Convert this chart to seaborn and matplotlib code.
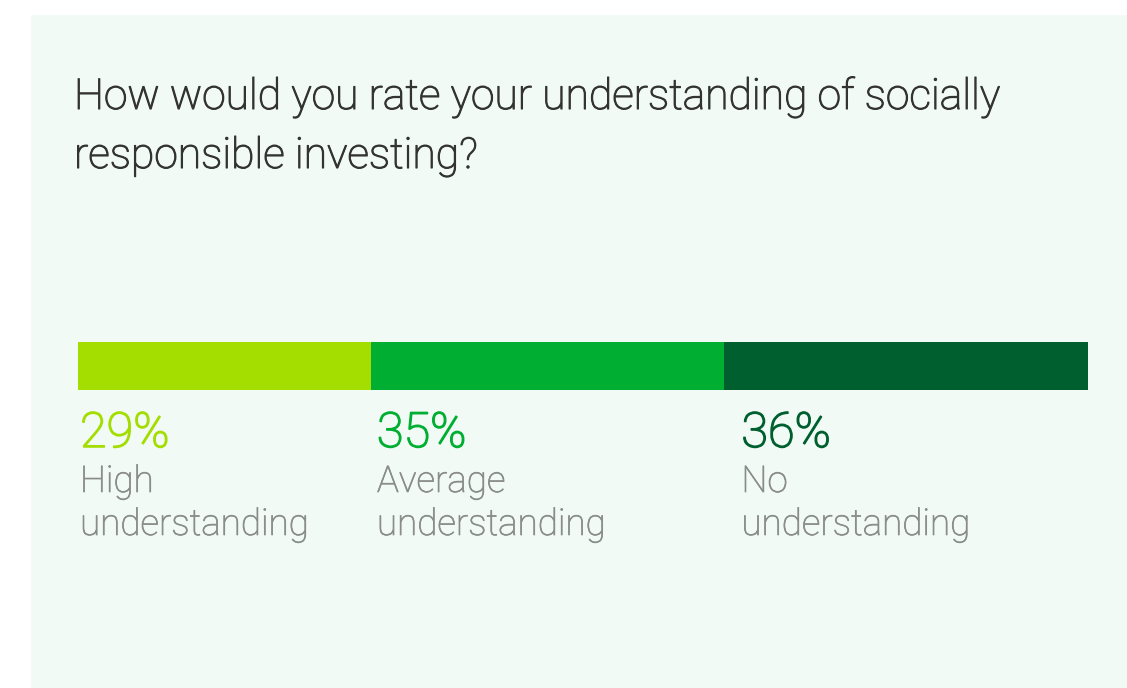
import matplotlib
matplotlib.use("Agg")
import matplotlib.pyplot as plt
import matplotlib.transforms as mtransforms
import matplotlib.patheffects as pe
from matplotlib.patches import Rectangle
import pandas as pd
import seaborn as sns

# Survey results
title_lines = ["How would you rate your understanding of socially",
               "responsible investing?"]
categories = [["High", "understanding"],
              ["Average", "understanding"],
              ["No", "understanding"]]
shares = [29, 35, 36]
colors = ["#A3DE00", "#00AE32", "#005F2F"]

W, H = 1127, 688
sns.set_theme(style="white")
plt.rcParams["font.family"] = ["Roboto", "DejaVu Sans"]

fig = plt.figure(figsize=(W / 100, H / 100), dpi=100, facecolor="white")

# light panel behind the chart
fig.patches.append(Rectangle((31 / W, 0), (W - 31) / W, (H - 15) / H,
                             transform=fig.transFigure, facecolor="#F1FAF5",
                             edgecolor="none", zorder=-5))

def fy(py):
    return 1 - py / H

def thicken(col, lw=0.55):
    return [pe.withStroke(linewidth=lw, foreground=col)]

title_col = "#333333"
for line, base in zip(title_lines, [109, 168]):
    fig.text(74 / W, fy(base), line, fontsize=30.7, color=title_col,
             va="baseline", ha="left", fontweight="light",
             path_effects=thicken(title_col, 0.8))

# stacked bar: draw cumulative totals from largest to smallest
ax = fig.add_axes([78 / W, fy(390), 1010 / W, 48 / H])
ax.set_facecolor("none")
cum = []
total = 0
for s in shares:
    total += s
    cum.append(total)
for c, col in zip(reversed(cum), reversed(colors)):
    df = pd.DataFrame({"value": [c], "row": ["all"]})
    sns.barplot(data=df, x="value", y="row", color=col, width=1.0,
                saturation=1, ax=ax, orient="h", edgecolor="none", linewidth=0)
ax.set_xlim(0, sum(shares))
ax.set_ylim(0.5, -0.5)
ax.axis("off")

# value and category labels under each segment
starts = [0] + cum[:-1]
offsets_px = [2, 6, 17]
label_col = "#8A8C8C"
for st, off, s, cat, col in zip(starts, offsets_px, shares, categories, colors):
    tr = mtransforms.blended_transform_factory(ax.transData, fig.transFigure)
    tr = tr + mtransforms.ScaledTranslation(off / 100, 0, fig.dpi_scale_trans)
    ax.text(st, fy(447), f"{s}%", transform=tr, fontsize=35, color=col,
            va="baseline", ha="left", clip_on=False, fontweight="light",
            path_effects=thicken(col, 1.1))
    for word, base in zip(cat, [492, 535]):
        ax.text(st, fy(base), word, transform=tr, fontsize=26.5,
                color=label_col, va="baseline", ha="left", clip_on=False,
                fontweight="light", path_effects=thicken(label_col, 0.5))

fig.savefig("out.png", dpi=100, facecolor="white")
